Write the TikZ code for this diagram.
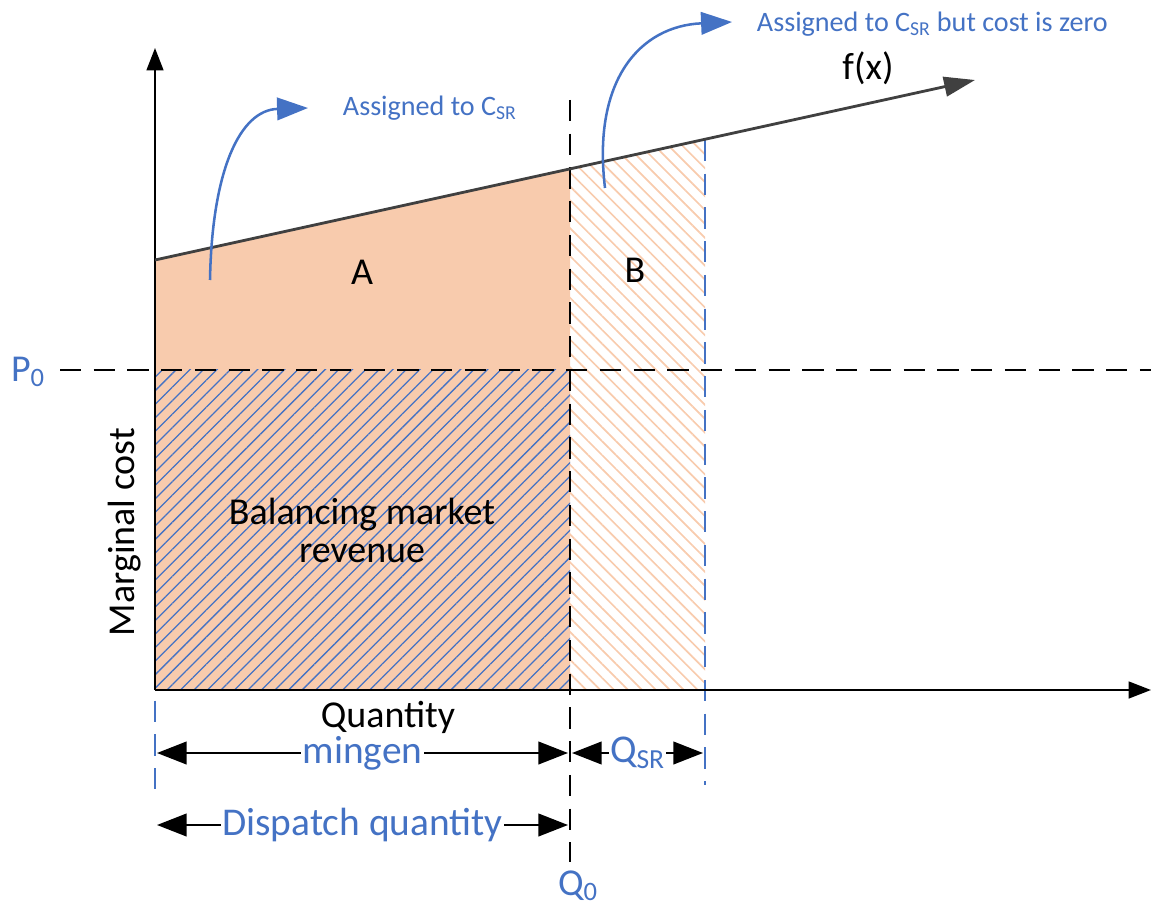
\documentclass[tikz,border=0pt]{standalone}
\usepackage{fontspec}
\setmainfont{Carlito}
\usetikzlibrary{arrows.meta,patterns.meta,positioning}
\definecolor{costblue}{RGB}{68,114,196}
\definecolor{areapeach}{RGB}{248,203,173}
\definecolor{curvegray}{RGB}{64,64,64}

\begin{document}
\begin{tikzpicture}[
    x=0.025cm, y=-0.025cm,
    axis/.style={line width=1.5pt, -{Triangle[length=16pt,width=12pt]}},
    fcurve/.style={draw=curvegray, line width=2pt, -{Triangle[length=22pt,width=14pt]}},
    guide/.style={line width=2pt, dash pattern=on 15pt off 9pt},
    blueguide/.style={guide, draw=costblue},
    measure/.style={line width=1.6pt, {Triangle[length=21pt,width=16pt]}-{Triangle[length=21pt,width=16pt]}},
    callout/.style={draw=costblue, line width=1.8pt, -{Triangle[length=22pt,width=16pt]}},
    biglabel/.style={font=\fontsize{27}{31}\selectfont},
    smalllabel/.style={font=\fontsize{20}{24}\selectfont, text=costblue, anchor=west},
    dimlabel/.style={font=\fontsize{28}{32}\selectfont, text=costblue, fill=white, inner xsep=1pt, inner ysep=0pt}
]
\useasboundingbox (0,0) rectangle (1151,911);

% key points
\coordinate (O) at (155,690);
\coordinate (ytop) at (155,48);
\coordinate (xend) at (1151,690);
\coordinate (fstart) at (155,260);
\coordinate (fend) at (975,80);
\coordinate (fq0) at (570,169);
\coordinate (fqsr) at (705,139);

% areas
\fill[areapeach] (fstart) -- (fq0) -- (570,690) -- (O) -- cycle;
\fill[pattern={Lines[angle=45,distance=6.8pt,line width=0.9pt]}, pattern color=costblue]
    (155,370) rectangle (570,690);
\fill[pattern={Lines[angle=-45,distance=7pt,line width=1.2pt]}, pattern color=areapeach]
    (fq0) -- (fqsr) -- (705,690) -- (570,690) -- cycle;

% guides
\draw[guide] (60,370) -- (1151,370);
\draw[guide] (570,100) -- (570,862);
\draw[blueguide] (705,140) -- (705,785);
\draw[blueguide] (155,262) -- (155,790);

% axes and cost curve
\draw[axis] (O) -- (ytop);
\draw[axis] (O) -- (xend);
\draw[fcurve] (fstart) -- (fend);

% labels
\node[biglabel] (fx) at (868,68) {f(x)};
\node[biglabel] (areaA) at (362,272) {A};
\node[biglabel] (areaB) at (635,270) {B};
\node[biglabel, align=center] (revenue) at (362,530) {Balancing market\\[-4pt]revenue};
\node[biglabel, rotate=90] (ylabel) at (125,532) {Marginal cost};
\node[biglabel, inner sep=0pt] (xlabel) at (388,717) {Quantity};
\node[biglabel, text=costblue] (p0) at (28,372) {P\textsubscript{0}};
\node[biglabel, text=costblue] (q0) at (578,886) {Q\textsubscript{0}};

% measures
\draw[measure] (157,753) -- node[dimlabel] (mingen) {mingen} (568,753);
\draw[measure] (572,753) -- node[dimlabel] (qsr) {Q\textsubscript{SR}} (703,753);
\draw[measure] (157,825) -- node[dimlabel] (dispatch) {Dispatch quantity} (568,825);

% callouts
\node[smalllabel] (assigned) at (338,108) {Assigned to C\textsubscript{SR}};
\node[smalllabel] (assignedzero) at (752,24) {Assigned to C\textsubscript{SR} but cost is zero};
\coordinate (fromA) at (210,280);
\coordinate (fromB) at (605,188);
\draw[callout] (fromA) .. controls (212,170) and (240,110) .. (308,108);
\draw[callout] (fromB) .. controls (592,80) and (640,26) .. (732,22);
\end{tikzpicture}
\end{document}
